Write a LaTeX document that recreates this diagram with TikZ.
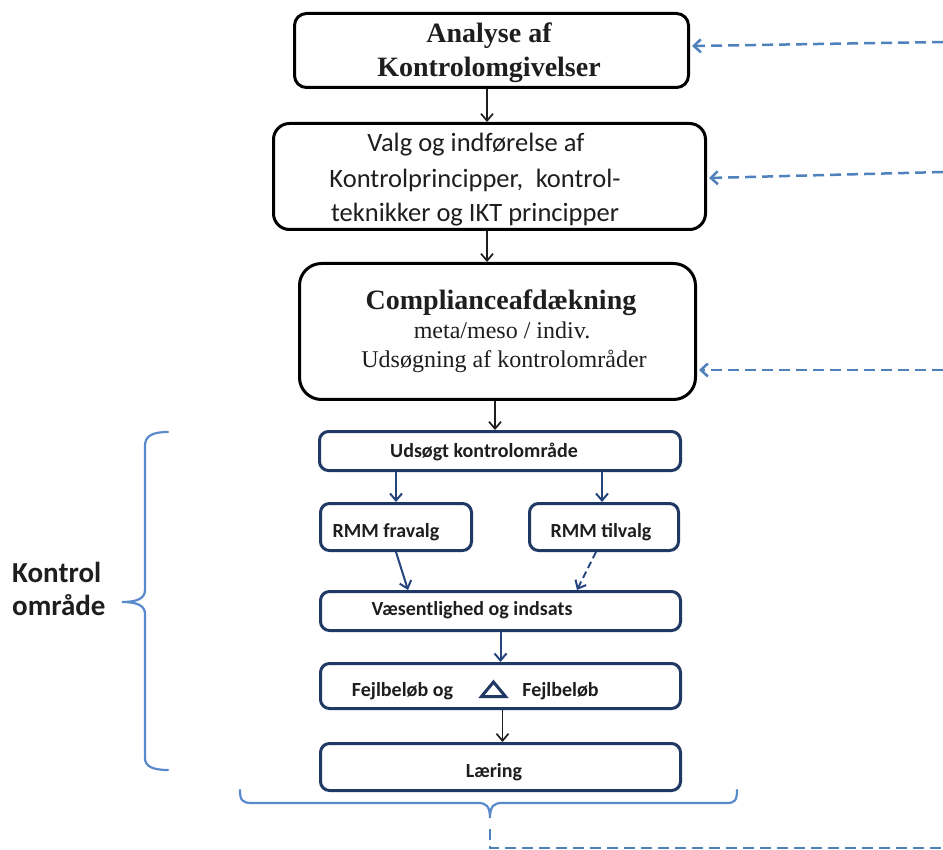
\documentclass[tikz,border=0pt]{standalone}
\usepackage{fontspec}
\setmainfont{Liberation Serif}
\newfontfamily\calib{Carlito}
\usetikzlibrary{arrows.meta,calc}
\definecolor{navy}{RGB}{31,56,100}
\definecolor{arrowblue}{RGB}{38,68,125}
\definecolor{linkblue}{RGB}{79,129,189}
\definecolor{braceblue}{RGB}{88,138,204}
\definecolor{ink}{RGB}{30,30,30}
\begin{document}
\begin{tikzpicture}[x=1pt,y=-1pt,
  topbox/.style={draw=black, line width=3pt, rounded corners=#1, inner sep=0pt},
  lowbox/.style={draw=navy, line width=3pt, rounded corners=9pt, inner sep=0pt},
  serifhead/.style={anchor=base, inner sep=0pt, text=ink, font=\fontsize{28}{34}\selectfont\bfseries},
  serifline/.style={anchor=base, inner sep=0pt, text=ink, font=\fontsize{24}{28}\selectfont},
  calline/.style={anchor=base, inner sep=0pt, text=ink, font=\calib\fontsize{26.5}{33}\selectfont},
  lowtext/.style={anchor=base, inner sep=0pt, text=ink, font=\calib\bfseries\fontsize{20}{24}\selectfont},
  sidetext/.style={anchor=base west, inner sep=0pt, text=ink, font=\calib\bfseries\fontsize{29}{27}\selectfont},
  karr/.style={draw=ink, line width=1.7pt, -{Straight Barb[length=7pt,width=12pt]}},
  barr/.style={draw=arrowblue, line width=2pt, -{Straight Barb[length=7pt,width=12pt]}},
  linkline/.style={draw=linkblue, line width=2.5pt, dash pattern=on 11pt off 6pt},
  link/.style={linkline, -{Straight Barb[length=7pt,width=13pt]}},
  brace/.style={draw=braceblue, line width=2.2pt, line cap=round},
]
% canvas
\fill[white] (0,0) rectangle (943,850);
\useasboundingbox (0,0) rectangle (943,850);

% upper process boxes
\node[topbox=12pt, minimum width=394pt, minimum height=74pt]  (b1) at (491.5,50.5) {};
\node[topbox=16pt, minimum width=432pt, minimum height=106pt] (b2) at (489.5,176.5) {};
\node[topbox=22pt, minimum width=396pt, minimum height=136pt] (b3) at (497.5,331.5) {};

\node[serifhead] (b1a) at (489,43) {Analyse af};
\node[serifhead] (b1b) at (489,77) {Kontrolomgivelser};

\node[calline] (b2a) at (476,152) {Valg og indførelse af};
\node[calline] (b2b) at (475,188) {Kontrolprincipper,\hspace{0.25em} kontrol-};
\node[calline] (b2c) at (475,222) {teknikker og IKT principper};

\node[serifhead] (b3a) at (501,310) {Complianceafdækning};
\node[serifline] (b3b) at (502,339) {meta/meso / indiv.};
\node[serifline] (b3c) at (504,368) {Udsøgning af kontrolområder};

% control area boxes
\node[lowbox, minimum width=361pt, minimum height=39pt] (u)   at (500,451) {};
\node[lowbox, minimum width=151pt, minimum height=47pt] (fra) at (396,527) {};
\node[lowbox, minimum width=149pt, minimum height=47pt] (til) at (604,527) {};
\node[lowbox, minimum width=360pt, minimum height=39pt] (vae) at (500.5,611) {};
\node[lowbox, minimum width=360pt, minimum height=45pt] (fej) at (500.5,686) {};
\node[lowbox, minimum width=360pt, minimum height=47pt] (lae) at (500.5,767) {};

\node[lowtext] (ut)   at (484,457) {Udsøgt kontrolområde};
\node[lowtext] (frat) at (386,537) {RMM fravalg};
\node[lowtext] (tilt) at (601,537) {RMM tilvalg};
\node[lowtext] (vaet) at (472,615) {Væsentlighed og indsats};
\node[lowtext] (fejt) at (402.5,696) {Fejlbeløb og};
\node[lowtext] (fejd) at (560.5,696) {Fejlbeløb};
\node[lowtext] (laet) at (494,777) {Læring};
% delta sign
\draw[draw=navy, line width=3pt, line join=miter] (481.5,696.5) -- (493.5,682) -- (505.5,696.5) -- cycle;

% flow arrows
\draw[karr] ($(b1.south)+(-4.5,0)$) -- ($(b1.south |- b2.north)+(-4.5,0)$);
\draw[karr] ($(b2.south)+(-2.5,0)$) -- ($(b2.south |- b3.north)+(-2.5,0)$);
\draw[karr] ($(b3.south)+(-2.5,0)$) -- ($(b3.south |- u.north)+(-2.5,0)$);
\draw[barr] (u.south -| fra.north) -- (fra.north);
\draw[barr] ($(u.south -| til.north)+(-2,0)$) -- ($(til.north)+(-2,0)$);
\draw[barr] (fra.south) -- ($(fra.south |- vae.north)+(12,0)$);
\draw[barr, dash pattern=on 7pt off 4pt] ($(til.south)+(-8,0)$) -- ($(til.south |- vae.north)+(-27,0)$);
\draw[barr] (vae.south) -- (fej.north);
\draw[karr] ($(fej.south)+(2,0)$) -- ($(fej.south |- lae.north)+(2,0)$);

% feedback links from the right
\coordinate (e1) at (943,42);
\coordinate (e2) at (943,172);
\coordinate (e3) at (943,370);
\draw[link] (e1) -- ($(b1.east)+(2,-4.5)$);
\draw[link] (e2) -- ($(b2.east)+(2,1.5)$);
\draw[link] (e3) -- ($(b3.east)+(2,38.5)$);

% left brace and its label
\draw[brace] (168,432) .. controls (152,432) and (145,436) .. (145,446) -- (145,590)
  .. controls (145,598) and (138,602) .. (122,602)
  .. controls (138,602) and (145,606) .. (145,614) -- (145,758)
  .. controls (145,766) and (152,770) .. (168,770);
\node[sidetext] (k1) at (12,582) {Kontrol};
\node[sidetext] (k2) at (12,615) {område};

% bottom brace and the return link
\coordinate (btip) at (490,818);
\draw[brace] (240,790) .. controls (240,800) and (242,803) .. (252,803) -- (478,803)
  .. controls (486,803) and (490,806) .. (btip)
  .. controls (490,806) and (494,803) .. (502,803) -- (727,803)
  .. controls (735,803) and (737,800) .. (737,790);
\coordinate (fbstart) at (490,829);
\coordinate (fbcorner) at (490,848);
\coordinate (fbend) at (943,848);
\draw[linkline] (fbstart) -- (fbcorner) -- (fbend);
\end{tikzpicture}
\end{document}
